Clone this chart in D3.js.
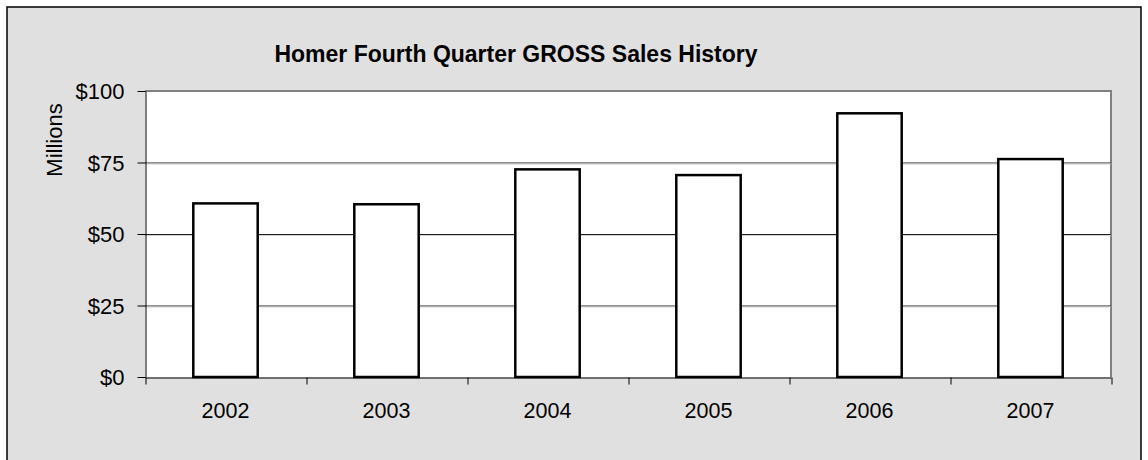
<!DOCTYPE html>
<html>

<head>
    <title>Homer Q4 Gross Sales</title>
    <script src="https://cdn.jsdelivr.net/npm/d3@7"></script>
    <style>
        body { margin: 0; background: #fff; }
        text { font-family: Arial, 'Liberation Sans', sans-serif; }
    </style>
</head>

<body>
    <svg width="1148" height="460" id="mainsvg"></svg>
    <script>
        // values in millions of dollars
        const years = ['2002', '2003', '2004', '2005', '2006', '2007'];
        const sales = [60.7, 60.4, 72.6, 70.6, 92.2, 76.2];
        const yTicks = [0, 25, 50, 75, 100];

        const svg = d3.select('svg');
        const plot = { left: 145, right: 1111, top: 91, bottom: 377 };
        const font = "Arial, 'Liberation Sans', sans-serif";

        // chart frame
        svg.append('rect')
            .attr('x', 7).attr('y', 7).attr('width', 1134).attr('height', 470)
            .attr('fill', '#e0e0e0').attr('stroke', '#000').attr('stroke-width', 1.5);

        svg.append('text')
            .attr('x', 516).attr('y', 62)
            .attr('text-anchor', 'middle')
            .attr('font-size', 23).attr('font-weight', 'bold')
            .text('Homer Fourth Quarter GROSS Sales History');

        const x = d3.scaleBand().domain(years)
            .range([plot.left, plot.right])
            .paddingInner(0.6).paddingOuter(0.3);
        const xEdge = d3.scaleLinear().domain([0, years.length]).range([plot.left, plot.right]);
        const y = d3.scaleLinear().domain([0, 100]).range([plot.bottom, plot.top]);

        // plot area
        svg.append('rect')
            .attr('x', plot.left).attr('y', plot.top)
            .attr('width', plot.right - plot.left).attr('height', plot.bottom - plot.top)
            .attr('fill', '#fff');
        svg.append('path')
            .attr('d', `M${plot.left},${plot.top}H${plot.right}V${plot.bottom}`)
            .attr('fill', 'none').attr('stroke', '#808080').attr('stroke-width', 2);

        // gridlines
        svg.append('g').selectAll('line').data(yTicks.slice(1, -1)).join('line')
            .attr('x1', plot.left).attr('x2', plot.right)
            .attr('y1', d => y(d) + 0.5).attr('y2', d => y(d) + 0.5)
            .attr('stroke', '#222');
        svg.append('g').selectAll('line').data(yTicks.slice(1, -1)).join('line')
            .attr('x1', plot.left).attr('x2', plot.right)
            .attr('y1', d => y(d) + 1.5).attr('y2', d => y(d) + 1.5)
            .attr('stroke', '#d0d0d0');

        // bars
        svg.append('g').selectAll('rect').data(years).join('rect')
            .attr('x', d => x(d))
            .attr('y', (d, i) => y(sales[i]))
            .attr('width', x.bandwidth())
            .attr('height', (d, i) => y(0) - y(sales[i]))
            .attr('fill', '#fff').attr('stroke', '#000').attr('stroke-width', 2.5);

        // y axis
        const yAxis = svg.append('g')
            .attr('transform', `translate(${plot.left + 0.5},0)`)
            .call(d3.axisLeft(y).tickValues(yTicks).tickFormat(d => '$' + d).tickSize(8).tickSizeOuter(0));
        yAxis.select('.domain').attr('stroke', '#000');
        yAxis.selectAll('text').attr('font-size', 22).attr('fill', '#000')
            .attr('x', -21).attr('dy', '0.36em')
            .style('font-family', font);

        // x axis: boundary ticks + centered labels
        const xTickAxis = svg.append('g')
            .attr('transform', `translate(0,${plot.bottom + 0.5})`)
            .call(d3.axisBottom(xEdge).tickValues(d3.range(years.length + 1)).tickFormat('').tickSize(7).tickSizeOuter(0));
        xTickAxis.select('.domain').attr('stroke', '#000');
        xTickAxis.selectAll('line').attr('transform', 'translate(0.5,0)');

        const xAxis = svg.append('g')
            .attr('transform', `translate(0,${plot.bottom})`)
            .call(d3.axisBottom(x).tickSize(0));
        xAxis.select('.domain').remove();
        xAxis.selectAll('text').attr('font-size', 21.5).attr('fill', '#000').attr('dy', 0).attr('y', 41)
            .style('font-family', font);

        svg.append('text')
            .attr('transform', 'translate(62,140) rotate(-90)')
            .attr('text-anchor', 'middle')
            .attr('font-size', 22)
            .text('Millions');
    </script>
</body>

</html>
